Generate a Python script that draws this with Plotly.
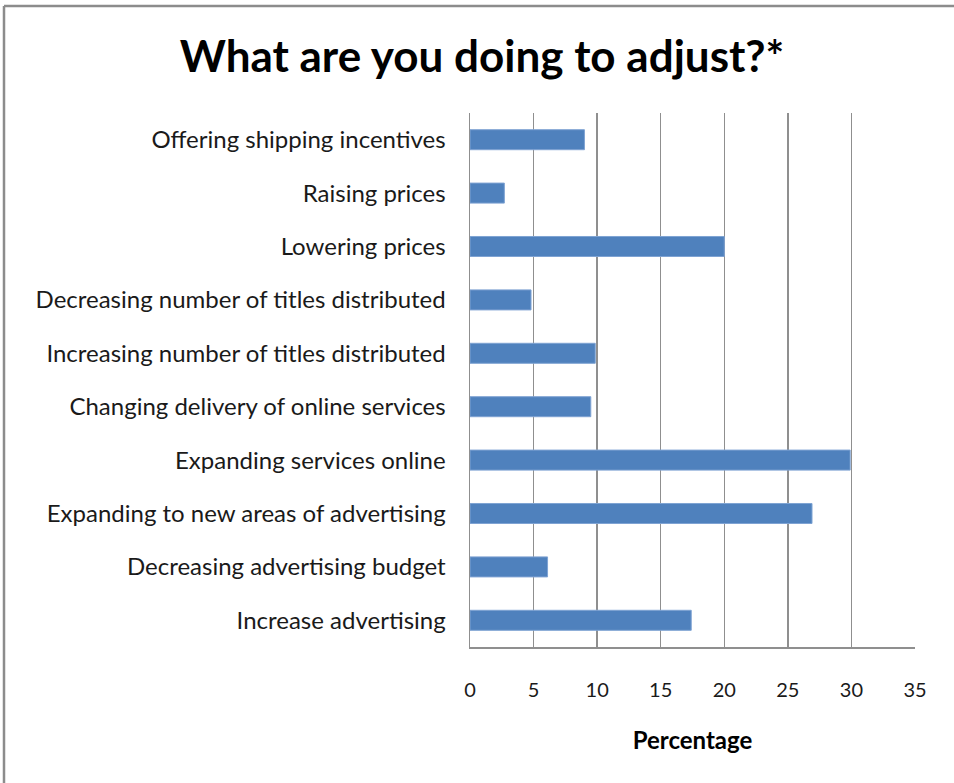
import plotly.graph_objects as go

categories = [
    "Offering shipping incentives",
    "Raising prices",
    "Lowering prices",
    "Decreasing number of titles distributed",
    "Increasing number of titles distributed",
    "Changing delivery of online services",
    "Expanding services online",
    "Expanding to new areas of advertising",
    "Decreasing advertising budget",
    "Increase advertising",
]
values = [9.0, 2.7, 20.0, 4.8, 9.85, 9.5, 29.9, 26.9, 6.1, 17.4]
x_ticks = [0, 5, 10, 15, 20, 25, 30, 35]

W, H = 954, 783
L, R, T, B = 470, 39, 113, 136
pw, ph = W - L - R, H - T - B

FONT = "Lato"

fig = go.Figure(go.Bar(
    x=values, y=categories, orientation="h",
    marker=dict(color="#4F81BD", line=dict(color="#7FA3D3", width=1)),
    width=0.375,
))

def px_to_paper_x(px):
    return (px - L) / pw

def px_to_paper_y(py):
    return (H - B - py) / ph

# outer chart border (top and left lines visible)
fig.add_shape(type="line", xref="paper", yref="paper",
              x0=px_to_paper_x(4), x1=px_to_paper_x(960),
              y0=px_to_paper_y(6), y1=px_to_paper_y(6),
              line=dict(color="#8C8C8C", width=2.5))
fig.add_shape(type="line", xref="paper", yref="paper",
              x0=px_to_paper_x(4), x1=px_to_paper_x(4),
              y0=px_to_paper_y(6), y1=px_to_paper_y(790),
              line=dict(color="#8C8C8C", width=2.5))

fig.update_layout(
    width=W, height=H,
    margin=dict(l=L, r=R, t=T, b=B, autoexpand=False),
    paper_bgcolor="white", plot_bgcolor="white",
    showlegend=False,
    title=dict(text="<b>What are you doing to adjust?*</b>",
               x=482 / W, xanchor="center", y=1 - 57 / H, yanchor="middle",
               font=dict(family=FONT, size=44, color="black")),
    font=dict(family=FONT, color="#1a1a1a"),
    xaxis=dict(
        range=[0, 35], tickvals=x_ticks, showgrid=True,
        gridcolor="#8F8F8F", gridwidth=1.5,
        showline=True, linecolor="#8F8F8F", linewidth=1.5,
        zeroline=False, ticks="",
        tickfont=dict(family=FONT, size=20, color="#1a1a1a"),
        ticklabelstandoff=24,
        title=dict(text="<b>Percentage</b>", standoff=32,
                   font=dict(family=FONT, size=24, color="black")),
        fixedrange=True,
    ),
    yaxis=dict(
        autorange="reversed", showgrid=False,
        showline=True, linecolor="#8F8F8F", linewidth=1.5,
        ticks="", tickfont=dict(family=FONT, size=24, color="#1a1a1a"),
        ticklabelstandoff=18, fixedrange=True,
    ),
    bargap=0.625,
)

fig.write_html("out.html",
               config={"displayModeBar": False, "staticPlot": True},
               post_script="document.body.style.margin='0px';document.body.style.padding='0px';")
